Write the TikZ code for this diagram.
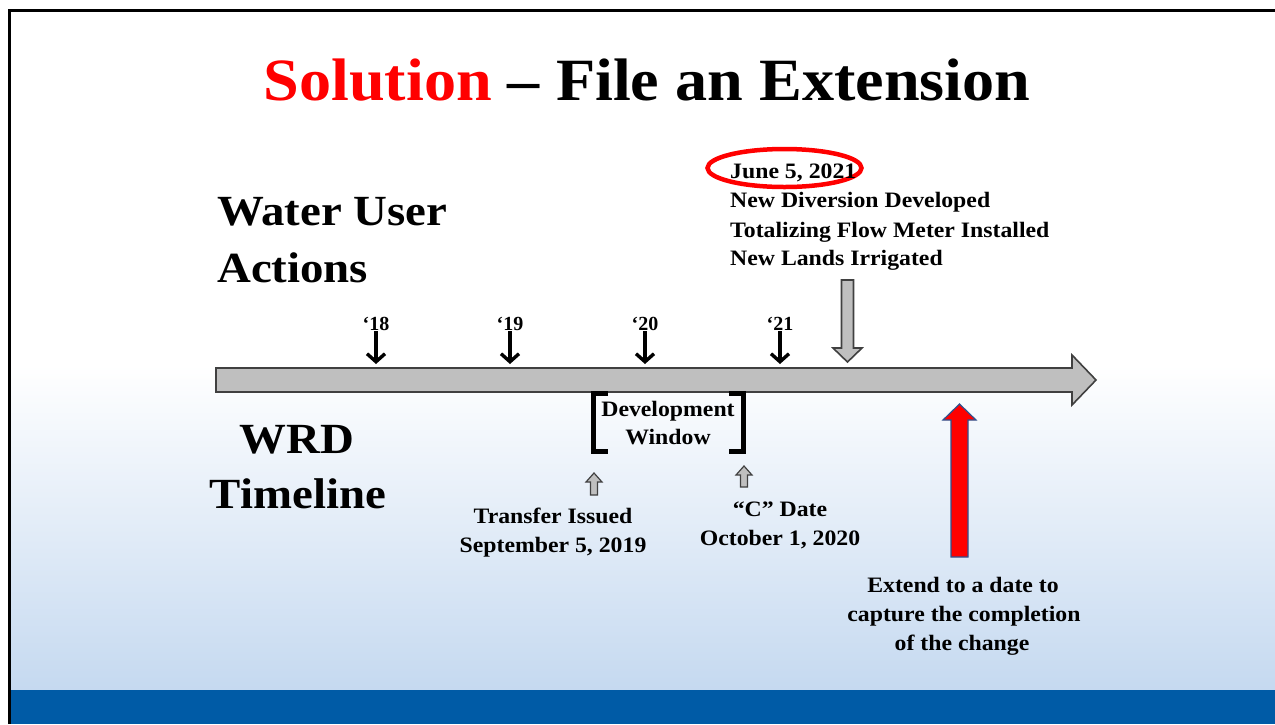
\documentclass[tikz,border=0pt]{standalone}
\usepackage{fontspec}
\setmainfont{Liberation Serif}
\usetikzlibrary{arrows.meta}
\definecolor{bgblue}{RGB}{197,217,240}
\definecolor{bandblue}{RGB}{0,91,166}
\definecolor{arrowgray}{RGB}{191,191,191}
\definecolor{arrowline}{RGB}{64,64,64}
\definecolor{solred}{RGB}{255,0,0}
\definecolor{redborder}{RGB}{47,82,143}
\newcommand\wtxt[1]{\scalebox{1.08}[1]{#1}}
\newcommand\wbig[1]{\scalebox{1.09}[1]{#1}}
\tikzset{
  big/.style={font=\fontsize{43}{43}\selectfont\bfseries, inner sep=0pt},
  body/.style={font=\fontsize{22}{22}\selectfont\bfseries, inner sep=0pt},
  yearlbl/.style={font=\fontsize{20}{20}\selectfont\bfseries, inner sep=1pt},
  yarrow/.style={line width=3.4pt, -{Straight Barb[length=8pt,width=18pt,line width=3.4pt]}},
  grayblock/.style={fill=arrowgray, draw=arrowline, line width=1.6pt, line join=miter},
  bracketline/.style={line width=5pt, line join=miter},
}
\begin{document}
\begin{tikzpicture}[x=1pt,y=-1pt]
\useasboundingbox (0,0) rectangle (1275,724);
\fill[white] (0,0) rectangle (1275,724);
\shade[top color=white,bottom color=bgblue] (10,365) rectangle (1275,690);
\fill[bandblue] (10,690) rectangle (1275,724);
\draw[line width=3pt] (9,724) -- (9,10.5) -- (1275,10.5);

% title
\node[inner sep=0pt, anchor=base] (title) at (647,100)
  {\scalebox{1.07}[1]{\fontsize{60}{60}\selectfont\bfseries\textcolor{solred}{Solution} -- File an Extension}};

% side labels
\node[big, anchor=base west] (wu1) at (217,225) {\wbig{Water User}};
\node[big, anchor=base west] (wu2) at (217,282) {\wbig{Actions}};
\node[big, anchor=base] (wrd1) at (297,453) {\wbig{WRD}};
\node[big, anchor=base] (wrd2) at (298,508) {\wbig{Timeline}};

% main timeline arrow
\draw[grayblock] (216,368) -- (1072,368) -- (1072,355) -- (1096,380) -- (1072,405) -- (1072,392) -- (216,392) -- cycle;

% year labels and arrows
\foreach \lbl/\x in {18/376,19/510,20/645,21/780}{
  \node[yearlbl, anchor=base] (y\lbl) at (\x,330) {‘\lbl};
  \coordinate (t\lbl) at (\x,364);
  \draw[yarrow] (y\lbl.south) -- (t\lbl);
}

% June block
\draw[solred, line width=4.5pt] (784.5,168) ellipse [x radius=77, y radius=19];
\node[body, anchor=base west] (j1) at (730,178) {\wtxt{June 5, 2021}};
\node[body, anchor=base west] (j2) at (730,207) {\wtxt{New Diversion Developed}};
\node[body, anchor=base west] (j3) at (730,237) {\wtxt{Totalizing Flow Meter Installed}};
\node[body, anchor=base west] (j4) at (730,265) {\wtxt{New Lands Irrigated}};
\draw[grayblock] (841.5,280) -- (853.5,280) -- (853.5,348) -- (862,348) -- (847.5,362) -- (833,348) -- (841.5,348) -- cycle;

% development window
\draw[bracketline] (608,393) -- (593,393) -- (593,451) -- (608,451);
\draw[bracketline] (729,393) -- (743,393) -- (743,451) -- (729,451);
\node[body, anchor=base] (dw1) at (668,416) {\wtxt{Development}};
\node[body, anchor=base] (dw2) at (668,444) {\wtxt{Window}};

% small gray up arrows
\draw[grayblock, line width=1.2pt] (594,473) -- (602,482) -- (597.5,482) -- (597.5,495) -- (590.5,495) -- (590.5,482) -- (586,482) -- cycle;
\draw[grayblock, line width=1.2pt] (744,466) -- (752,475) -- (747.5,475) -- (747.5,487) -- (740.5,487) -- (740.5,475) -- (736,475) -- cycle;

\node[body, anchor=base] (tr1) at (553,523) {\wtxt{Transfer Issued}};
\node[body, anchor=base] (tr2) at (553,552) {\wtxt{September 5, 2019}};
\node[body, anchor=base] (cd1) at (780,516) {\wtxt{“C” Date}};
\node[body, anchor=base] (cd2) at (780,545) {\wtxt{October 1, 2020}};

% red arrow
\draw[fill=solred, draw=redborder, line width=1.2pt, line join=miter] (959.5,404) -- (976,420) -- (968,420) -- (968,557) -- (951,557) -- (951,420) -- (943,420) -- cycle;
\node[body, anchor=base] (ex1) at (963,592) {\wtxt{Extend to a date to}};
\node[body, anchor=base] (ex2) at (964,621) {\wtxt{capture the completion}};
\node[body, anchor=base] (ex3) at (962,650) {\wtxt{of the change}};
\end{tikzpicture}
\end{document}
